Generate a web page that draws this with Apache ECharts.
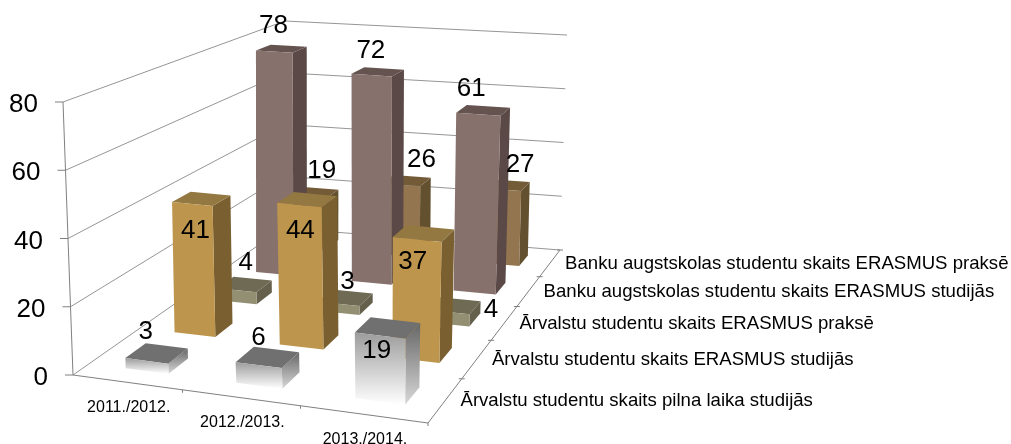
<!DOCTYPE html>
<html><head><meta charset="utf-8">
<style>html,body{margin:0;padding:0;background:#fff}#c{width:1011px;height:444px}</style>
<script src="https://cdn.jsdelivr.net/npm/echarts@6/dist/echarts.min.js"></script>
</head><body><div id="c"></div>
<script>
// ---------- data ----------
const categories = ['2011./2012.', '2012./2013.', '2013./2014.'];
const seriesNames = [
  'Ārvalstu studentu skaits pilna laika studijās',
  'Ārvalstu studentu skaits ERASMUS studijās',
  'Ārvalstu studentu skaits ERASMUS praksē',
  'Banku augstskolas studentu skaits ERASMUS studijās',
  'Banku augstskolas studentu skaits ERASMUS praksē'
];
const pilnaLaika = [3, 6, 19];
const erasmusStudijas = [41, 44, 37];
const erasmusPrakse = [4, 3, 4];
const bankuStudijas = [78, 72, 61];
const bankuPrakse = [19, 26, 27];
const valueTicks = [0, 20, 40, 60, 80];
const rows = [pilnaLaika, erasmusStudijas, erasmusPrakse, bankuStudijas, bankuPrakse];

// ---------- projection (camera of the 3D box) ----------
const W = 1011, H = 444;
const floorCorners = [[73,375],[428,423],[560,250],[283,228]];
const topCorners   = [[63,102],[433,140],[567,35],[285,21]];
function homography(q){
  const [[x0,y0],[x1,y1],[x2,y2],[x3,y3]] = q;
  const dx1=x1-x2,dx2=x3-x2,sx=x0-x1+x2-x3,dy1=y1-y2,dy2=y3-y2,sy=y0-y1+y2-y3;
  const den=dx1*dy2-dx2*dy1, g=(sx*dy2-dx2*sy)/den, h=(dx1*sy-sx*dy1)/den;
  const a=x1-x0+g*x1,b=x3-x0+h*x3,d=y1-y0+g*y1,e=y3-y0+h*y3;
  return (u,v)=>{const k=g*u+h*v+1;return [(a*u+b*v+x0)/k,(d*u+e*v+y0)/k];};
}
const hFloor = homography(floorCorners), hTop = homography(topCorners);
function P(u,d,w){
  const a=hFloor(u,d), b=hTop(u,d);
  return [a[0]+(b[0]-a[0])*w, a[1]+(b[1]-a[1])*w];
}
// scale helpers: use the (hidden) cartesian axes to normalise data
function norm(api,cat,val){
  const c=api.coord([cat,val]);
  const band=api.size([1,0])[0];
  return {u:c[0]/W, w:(H-c[1])/H, bu:band/W};
}

// ---------- styles ----------
const grad=(a,b)=>new echarts.graphic.LinearGradient(0,0,0,1,[{offset:0,color:a},{offset:1,color:b}]);
const barStyles = [
  {front:grad('#9c9c9c','#ffffff'), side:grad('#666666','#d8d8d8'), top:'#707070'},
  {front:'#BD954D', side:'#7A6031', top:'#937842'},
  {front:'#938F72', side:'#64604C', top:'#6E6A54'},
  {front:'#87716D', side:'#5A4947', top:'#65534F'},
  {front:'#937550', side:'#63502F', top:'#745B38'}
];
const labelNudge = [
  [[-11,-21],[-9,-19],[-11,23]],
  [[-6,32],[-7,31],[-11,29]],
  [[1,-22],[2,-16],[38,4]],
  [[-8,-23],[-7,-21],[-12,-21]],
  [[7,-22],[15,-21],[15,-20]]
];
const halfU = 0.198, halfD = 0.04, shiftU = 0.014;   // bar half width (share of band), half depth, sideways shift
const FONT = '"Liberation Sans", Arial, sans-serif';
const txt=(text,x,y,size,align)=>({type:'text',z2:100,style:{text,x,y,fill:'#000',font:size+'px '+FONT,
  textFont:size+'px '+FONT,align:align,textAlign:align,verticalAlign:'middle',textVerticalAlign:'middle'}});
const line=(pts,color)=>({type:'polyline',shape:{points:pts},style:{stroke:color,lineWidth:1,fill:null}});

function barRender(r){
  return (params,api)=>{
    const n=norm(api,api.value(0),api.value(1));
    const dc=(r+0.5)/rows.length, hu=halfU*n.bu, uc=n.u+shiftU;
    const u0=uc-hu,u1=uc+hu,d0=dc-halfD,d1=dc+halfD,w=n.w;
    const st=barStyles[r];
    const poly=(pts,fill)=>({type:'polygon',shape:{points:pts},style:{fill}});
    return {type:'group',children:[
      poly([P(u1,d0,0),P(u1,d1,0),P(u1,d1,w),P(u1,d0,w)],st.side),
      poly([P(u0,d0,w),P(u1,d0,w),P(u1,d1,w),P(u0,d1,w)],st.top),
      poly([P(u0,d0,0),P(u1,d0,0),P(u1,d0,w),P(u0,d0,w)],st.front)
    ]};
  };
}
function labelRender(r){
  return (params,api)=>{
    const i=api.value(0),n=norm(api,i,api.value(1));
    const p=P(n.u+shiftU,(r+0.5)/rows.length,n.w),o=labelNudge[r][i];
    return txt(String(api.value(1)),p[0]+o[0],p[1]+o[1],26,'center');
  };
}
function gridRender(params,api){
  const n=norm(api,0,api.value(0));
  const a=P(0,0,n.w),b=P(0,1,n.w),c=P(1,1,n.w);
  return {type:'group',children:[
    line([a,b,c],'#969696'),
    line([[a[0]-8,a[1]],a],'#808080'),
    txt(String(api.value(0)),a[0]-25,a[1]+3,26,'right')
  ]};
}
function frameRender(params,api){
  const kids=[line([P(0,0,0),P(0,0,1)],'#808080'),line([P(0,0,0),P(1,0,0),P(1,1,0)],'#808080')];
  for(let i=1;i<=categories.length;i++){const p=P(i/categories.length,0,0);kids.push(line([p,[p[0],p[1]+3]],'#808080'));}
  for(let j=1;j<=rows.length;j++){const p=P(1,j/rows.length,0);kids.push(line([[p[0]-3,p[1]],[p[0]+3,p[1]]],'#808080'));}
  return {type:'group',children:kids};
}
function catLabelRender(params,api){
  const n=norm(api,api.value(0),0),p=P(n.u,0,0);
  return txt(categories[api.value(0)],p[0]+2,p[1]+25,16,'center');
}
function nameLabelRender(params,api){
  const j=api.value(0),p=P(1,(j+0.5)/rows.length,0);
  return txt(seriesNames[j],p[0]+15,p[1]+1,18.6,'left');
}

const custom=(renderItem,data,z)=>({type:'custom',coordinateSystem:'cartesian2d',renderItem,data,z:z||2,
  clip:false,silent:true,animation:false,encode:{x:0,y:1}});
const series=[];
series.push(custom(gridRender,valueTicks.map(v=>[v,v]),1));
series[0].encode={x:[],y:0};
series.push(custom(frameRender,[[0,0]],1));
for(let r=rows.length-1;r>=0;r--) series.push(custom(barRender(r),rows[r].map((v,i)=>[i,v]),2));
rows.forEach((vals,r)=>series.push(custom(labelRender(r),vals.map((v,i)=>[i,v]),5)));
series.push(custom(catLabelRender,categories.map((c,i)=>[i,0]),5));
series.push(custom(nameLabelRender,seriesNames.map((c,j)=>[j,0]),5));

const chart=echarts.init(document.getElementById('c'),null,{width:W,height:H});
chart.setOption({
  animation:false,
  backgroundColor:'#fff',
  grid:{left:0,top:0,width:W,height:H,containLabel:false},
  xAxis:{type:'category',data:categories,show:false},
  yAxis:{type:'value',min:0,max:80,interval:20,show:false},
  series
});
</script></body></html>
